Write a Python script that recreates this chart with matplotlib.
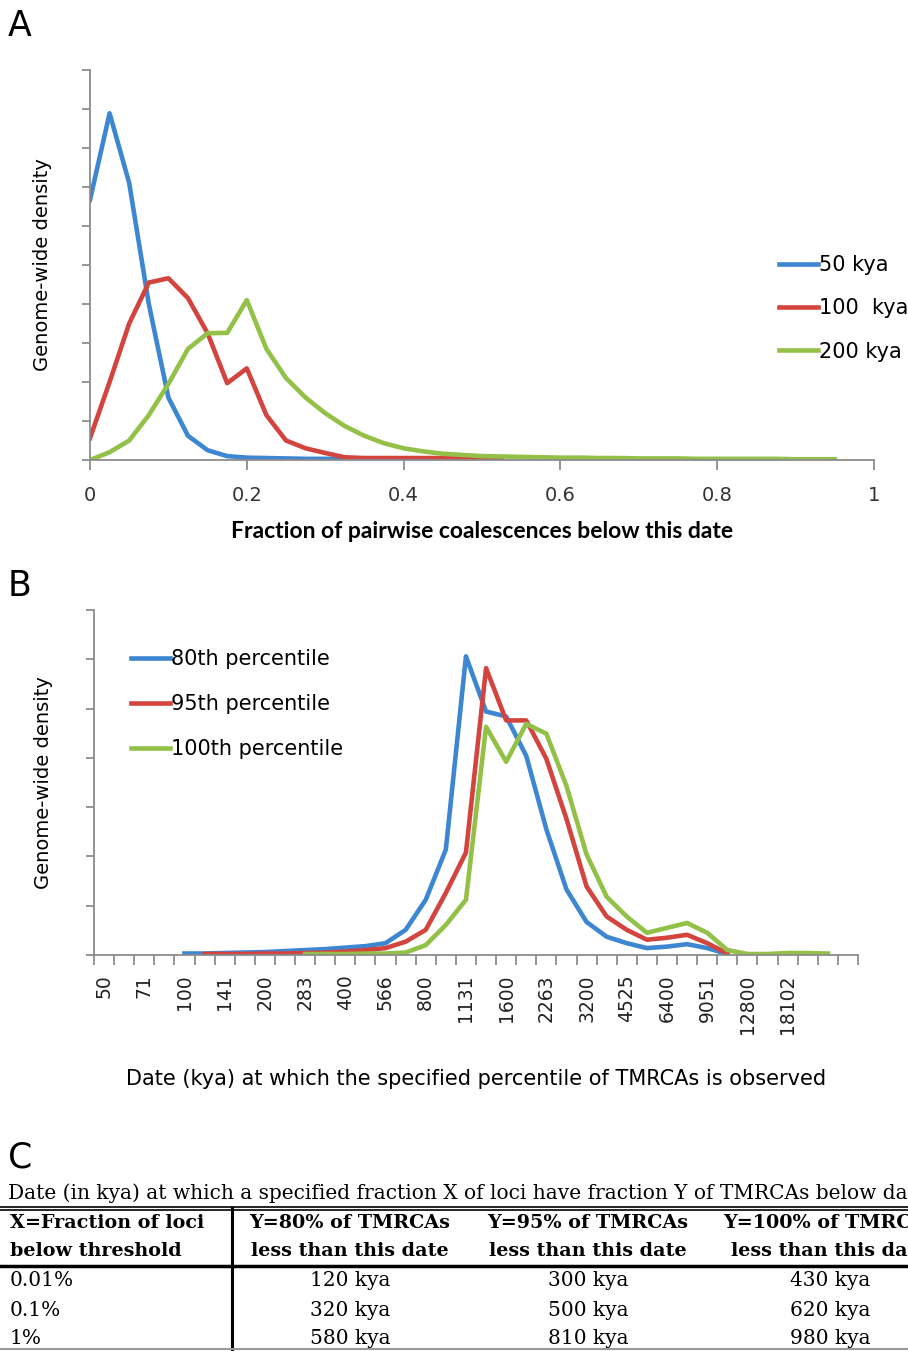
import numpy as np
import matplotlib
matplotlib.use("Agg")
import matplotlib.pyplot as plt
from matplotlib.lines import Line2D

W, H = 908, 1351

# ---- panel A data: density vs fraction of pairwise coalescences ----
frac_x = np.arange(0, 0.951, 0.025)
kya50 = [6.67, 8.89, 7.1, 4.0, 1.6, 0.62, 0.25, 0.1, 0.06, 0.05, 0.04, 0.03, 0.03, 0.03]
kya100 = [0.56, 2.0, 3.5, 4.55, 4.66, 4.15, 3.25, 1.97, 2.35, 1.15, 0.5, 0.3, 0.18, 0.07,
          0.05, 0.05, 0.05, 0.05, 0.05, 0.05, 0.05, 0.05]
kya200 = [0.0, 0.2, 0.5, 1.15, 1.95, 2.85, 3.25, 3.26, 4.1, 2.85, 2.1, 1.6, 1.2, 0.87,
          0.62, 0.43, 0.3, 0.22, 0.16, 0.13, 0.1, 0.09, 0.08, 0.07, 0.06, 0.06, 0.05, 0.05,
          0.04, 0.04, 0.04, 0.03, 0.03, 0.03, 0.03, 0.03, 0.02, 0.02, 0.02]
labels_a = ["50 kya", "100  kya", "200 kya"]

# ---- panel B data: density vs date (kya), categorical axis ----
date_labels = ["50", "71", "100", "141", "200", "283", "400", "566", "800", "1131",
               "1600", "2263", "3200", "4525", "6400", "9051", "12800", "18102"]
n_cat = 38
nan = np.nan
p80 = [nan, nan, nan, nan, 0.03, 0.03, 0.04, 0.05, 0.06, 0.08, 0.1, 0.12, 0.15, 0.18,
       0.24, 0.51, 1.12, 2.14, 6.06, 4.94, 4.84, 4.04, 2.55, 1.33, 0.67, 0.37, 0.24, 0.14,
       0.17, 0.22, 0.14, 0.02, nan, nan, nan, nan, nan, nan]
p95 = [nan, nan, nan, nan, nan, 0.02, 0.02, 0.02, 0.03, 0.03, 0.04, 0.05, 0.07, 0.1,
       0.14, 0.27, 0.51, 1.26, 2.08, 5.82, 4.76, 4.76, 3.98, 2.76, 1.39, 0.78, 0.51, 0.31,
       0.35, 0.41, 0.24, 0.03, nan, nan, nan, nan, nan, nan]
p100 = [nan, nan, nan, nan, nan, nan, nan, nan, nan, nan, 0.02, 0.02, 0.02, 0.03,
        0.03, 0.05, 0.2, 0.61, 1.12, 4.63, 3.92, 4.69, 4.49, 3.43, 2.04, 1.18, 0.78, 0.45,
        0.55, 0.65, 0.45, 0.1, 0.02, 0.02, 0.04, 0.04, 0.03, nan]
labels_b = ["80th percentile", "95th percentile", "100th percentile"]

# ---- panel C table ----
caption = "Date (in kya) at which a specified fraction X of loci have fraction Y of TMRCAs below date"
col_head1 = ["X=Fraction of loci", "Y=80% of TMRCAs", "Y=95% of TMRCAs", "Y=100% of TMRCAs"]
col_head2 = ["below threshold", "less than this date", "less than this date", "less than this date"]
row_names = ["0.01%", "0.1%", "1%"]
y80 = ["120 kya", "320 kya", "580 kya"]
y95 = ["300 kya", "500 kya", "810 kya"]
y100 = ["430 kya", "620 kya", "980 kya"]

colors = ["#3d87d2", "#d3443e", "#93c047"]
axis_grey = "#8c8c8c"
plt.rcParams["font.family"] = ["DejaVu Sans"]


def fx(px):
    return px / W


def fy(py):
    return 1 - py / H


fig = plt.figure(figsize=(W / 100, H / 100), dpi=100)

def style_axes(ax):
    for s in ("top", "right"):
        ax.spines[s].set_visible(False)
    for s in ("left", "bottom"):
        ax.spines[s].set_color(axis_grey)
        ax.spines[s].set_linewidth(1.3)
    ax.tick_params(which="both", color=axis_grey, width=1.3, direction="out")

# ---------------- panel A ----------------
axA = fig.add_axes([fx(90), fy(460), fx(874 - 90), (460 - 70) / H])
for vals, c, lab in zip([kya50, kya100, kya200], colors, labels_a):
    axA.plot(frac_x[:len(vals)], vals, color=c, lw=3.3, label=lab)
axA.set_xlim(0, 1)
axA.set_ylim(0, 10)
axA.set_yticks(np.arange(0, 11))
axA.set_yticklabels([])
axA.set_xticks(np.arange(0, 1.01, 0.2))
axA.set_xticklabels(["0", "0.2", "0.4", "0.6", "0.8", "1"], fontsize=14, color="#333333")
style_axes(axA)
axA.tick_params(axis="y", length=6)
axA.tick_params(axis="x", length=7, pad=12)
axA.set_xlabel("Fraction of pairwise coalescences below this date", fontsize=16.5,
               fontweight="bold", family="Lato", labelpad=11)
axA.set_ylabel("Genome-wide density", fontsize=14, labelpad=18)
legA = axA.legend(loc="upper left", bbox_to_anchor=(fx(779), fy(255)),
                  bbox_transform=fig.transFigure, frameon=False, fontsize=15,
                  handlelength=1.85, handletextpad=0.05, labelspacing=1.12,
                  borderpad=0, borderaxespad=0)

# ---------------- panel B ----------------
axB = fig.add_axes([fx(94), fy(955), fx(858 - 94), (955 - 610) / H])
cats = np.arange(n_cat)
for vals, c, lab in zip([p80, p95, p100], colors, labels_b):
    axB.plot(cats, vals, color=c, lw=3.3, label=lab)
axB.set_xlim(-0.5, n_cat - 0.5)
axB.set_ylim(0, 7)
axB.set_yticks(np.arange(0, 8))
axB.set_yticklabels([])
axB.set_xticks(np.arange(0, 2 * len(date_labels), 2))
axB.set_xticklabels(date_labels, rotation=90, fontsize=13.5, color="#222222")
axB.set_xticks(np.arange(-0.5, n_cat), minor=True)
style_axes(axB)
axB.tick_params(axis="x", which="major", length=0, pad=14)
axB.tick_params(axis="x", which="minor", length=7)
axB.tick_params(axis="y", length=6)
axB.set_xlabel("Date (kya) at which the specified percentile of TMRCAs is observed",
               fontsize=15, labelpad=25)
axB.set_ylabel("Genome-wide density", fontsize=14, labelpad=20)
legB = axB.legend(loc="upper left", bbox_to_anchor=(fx(131), fy(649)),
                  bbox_transform=fig.transFigure, frameon=False, fontsize=15,
                  handlelength=1.85, handletextpad=0.05, labelspacing=1.2,
                  borderpad=0, borderaxespad=0)

# ---------------- panel letters ----------------
for letter, py in zip(["A", "B", "C"], [26, 586, 1157]):
    fig.text(fx(8), fy(py), letter, fontsize=25, va="center", ha="left")

# ---------------- panel C table ----------------
serif = "DejaVu Serif"
fig.text(fx(8), fy(1193), caption, family=serif, fontsize=14.5, va="center", ha="left")
col_x = [10, 350, 588, 830]
for i, (h1, h2) in enumerate(zip(col_head1, col_head2)):
    ha = "left" if i == 0 else "center"
    fig.text(fx(col_x[i]), fy(1223), h1, family=serif, fontsize=13.8, fontweight="bold",
             va="center", ha=ha)
    fig.text(fx(col_x[i]), fy(1251), h2, family=serif, fontsize=13.8, fontweight="bold",
             va="center", ha=ha)
row_y = [1281, 1310, 1338]
for r, ry in enumerate(row_y):
    fig.text(fx(col_x[0]), fy(ry), row_names[r], family=serif, fontsize=14.5, va="center", ha="left")
    for j, col in enumerate([y80, y95, y100]):
        fig.text(fx(col_x[j + 1]), fy(ry), col[r], family=serif, fontsize=14.5,
                 va="center", ha="center")

for py, lw in [(1207, 1.2), (1210, 1.2), (1266, 2.5)]:
    fig.add_artist(Line2D([0, 1], [fy(py), fy(py)], color="black", lw=lw))
fig.add_artist(Line2D([fx(232), fx(232)], [fy(1208), fy(1351)], color="black", lw=2.2))
fig.add_artist(Line2D([0, 1], [fy(1349), fy(1349)], color="#999999", lw=1.5))

fig.savefig("out.png", dpi=100)
